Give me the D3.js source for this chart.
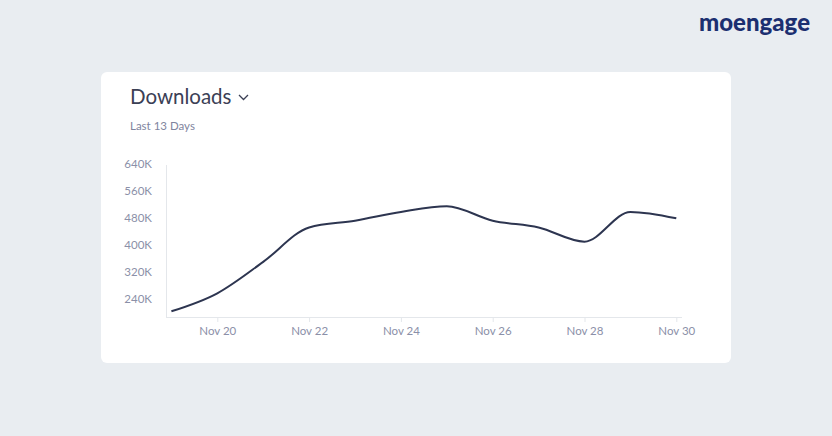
<!DOCTYPE html>
<html><head><meta charset="utf-8">
<script src="https://cdn.jsdelivr.net/npm/d3@7"></script>
<style>
html,body{margin:0;padding:0;background:#e9edf1;}
svg{display:block;font-family:Lato,"Open Sans",sans-serif;}
</style></head>
<body><svg id="c" width="832" height="436"></svg>
<script>
const dates = ["2023-11-19","2023-11-20","2023-11-21","2023-11-22","2023-11-23","2023-11-24","2023-11-25","2023-11-26","2023-11-27","2023-11-28","2023-11-29","2023-11-30"];
const downloads = [203600, 257000, 350000, 452000, 472000, 498000, 515000, 472000, 452000, 410000, 498000, 479000];
const yTicks = [240000, 320000, 400000, 480000, 560000, 640000];
const xTickDates = ["2023-11-20","2023-11-22","2023-11-24","2023-11-26","2023-11-28","2023-11-30"];

const parse = d3.utcParse("%Y-%m-%d");
const data = dates.map((d,i)=>({date:parse(d), v:downloads[i]}));
const svg = d3.select("#c");

svg.append("rect").attr("width",832).attr("height",436).attr("fill","#e9edf1");
// logo
svg.append("text").attr("x",810).attr("y",31).attr("text-anchor","end")
  .attr("font-size",24).attr("font-weight",900).attr("fill","#1b2f70")
  .attr("font-family","Lato, sans-serif").text("moengage");

// card
svg.append("rect").attr("x",101).attr("y",72).attr("width",630).attr("height",291)
  .attr("rx",6).attr("fill","#ffffff");

svg.append("text").attr("x",130).attr("y",104).attr("font-size",20.5)
  .attr("fill","#3b4055").text("Downloads");
svg.append("path").attr("d","M239,95 L243.5,99.5 L248,95").attr("fill","none")
  .attr("stroke","#3b4055").attr("stroke-width",1.3);
svg.append("text").attr("x",130).attr("y",130).attr("font-size",11.5)
  .attr("fill","#7f859e").text("Last 13 Days");

const x = d3.scaleUtc().domain([parse("2023-11-19"), parse("2023-11-30")]).range([171.4, 676.3]);
const y = d3.scaleLinear().domain([186700, 640000]).range([317, 164]);

// y axis
const yAxis = svg.append("g").attr("transform","translate(166,0)")
  .call(d3.axisLeft(y).tickValues(yTicks).tickSize(0).tickPadding(14)
    .tickFormat(d=>d3.format("d")(d/1000)+"K"));
yAxis.select(".domain").remove();
yAxis.selectAll("text").attr("font-size",11.5).attr("fill","#8b90a8").attr("font-family","Lato, sans-serif");
svg.append("line").attr("x1",166.5).attr("x2",166.5).attr("y1",165).attr("y2",317)
  .attr("stroke","#e4e7eb").attr("stroke-width",1);

// x axis
const xAxis = svg.append("g").attr("transform","translate(0,317)")
  .call(d3.axisBottom(x).tickValues(xTickDates.map(parse)).tickSize(5).tickPadding(5)
    .tickFormat(d3.utcFormat("Nov %-d")));
xAxis.select(".domain").remove();
xAxis.selectAll("line").attr("stroke","#e4e7eb");
xAxis.selectAll("text").attr("font-size",11.5).attr("fill","#8b90a8").attr("font-family","Lato, sans-serif");
svg.append("line").attr("x1",166).attr("x2",682).attr("y1",317.5).attr("y2",317.5)
  .attr("stroke","#e4e7eb").attr("stroke-width",1);

// line
const line = d3.line().x(d=>x(d.date)).y(d=>y(d.v)).curve(d3.curveMonotoneX);
svg.append("path").datum(data).attr("d",line).attr("fill","none")
  .attr("stroke","#2d3550").attr("stroke-width",2);
</script></body></html>
